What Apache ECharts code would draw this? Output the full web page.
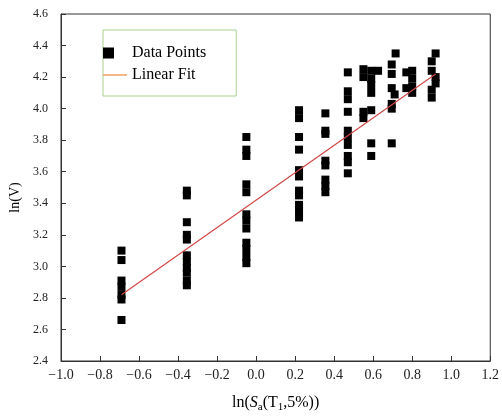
<!DOCTYPE html>
<html>
<head>
<meta charset="utf-8">
<script src="https://cdn.jsdelivr.net/npm/echarts@6/dist/echarts.min.js"></script>
<style>
  html, body { margin: 0; padding: 0; background: #fff; }
  #chart { width: 502px; height: 418px; }
</style>
</head>
<body>
<div id="chart"></div>
<script>
// Observed ln(V) values grouped by their ln(Sa) value
const xValues = [-0.69, -0.355, -0.05, 0.22, 0.355, 0.47, 0.55, 0.59, 0.625, 0.695, 0.71, 0.715, 0.77, 0.80, 0.90, 0.92];
const yGroups = [
  [3.10, 3.04, 2.91, 2.87, 2.82, 2.79, 2.66],
  [3.48, 3.45, 3.28, 3.20, 3.17, 3.07, 3.03, 2.99, 2.96, 2.91, 2.88],
  [3.82, 3.74, 3.70, 3.52, 3.47, 3.33, 3.29, 3.24, 3.15, 3.11, 3.06, 3.02],
  [3.99, 3.94, 3.82, 3.74, 3.61, 3.57, 3.48, 3.45, 3.39, 3.35, 3.31],
  [3.97, 3.86, 3.84, 3.67, 3.64, 3.55, 3.51, 3.47],
  [4.23, 4.11, 4.06, 3.98, 3.86, 3.82, 3.77, 3.70, 3.66, 3.59],
  [4.25, 4.20, 3.98, 3.94],
  [4.24, 4.19, 4.15, 4.10, 3.99, 3.78, 3.70],
  [4.24],
  [4.28, 4.22, 4.13, 4.03, 4.00, 3.78],
  [4.09],
  [4.35],
  [4.23, 4.13],
  [4.24, 4.19, 4.14, 4.10],
  [4.30, 4.24, 4.12, 4.07],
  [4.35, 4.20, 4.16]
];
// Regression line end points
const fitLine = [[-0.69, 2.82], [0.92, 4.22]];

const points = [];
xValues.forEach((x, i) => yGroups[i].forEach(y => points.push([x, y])));

const serif = '"Liberation Serif", "Times New Roman", serif';
const fmt = v => (v < 0 ? '\u2212' : '') + Math.abs(v).toFixed(1);

const chart = echarts.init(document.getElementById('chart'));
chart.setOption({
  animation: false,
  backgroundColor: '#fff',
  grid: { left: 59, right: 8, top: 14, bottom: 55, show: true, borderColor: '#333', borderWidth: 1 },
  legend: {
    orient: 'vertical',
    left: 103, top: 30,
    padding: [15, 30, 13, 0],
    borderColor: '#a9d18e', borderWidth: 1,
    itemWidth: 24, itemHeight: 11, itemGap: 6,
    textStyle: { fontFamily: serif, fontSize: 16, color: '#000', lineHeight: 15 },
    data: [
      { name: 'Data Points', icon: 'path://M0,0h11v11h-11z M23.9,5.4h0.1v0.1h-0.1z', itemStyle: { color: '#000', borderWidth: 0 } },
      { name: 'Linear Fit', icon: 'path://M0,0h24v1.5h-24z', itemStyle: { color: '#f0a060', borderWidth: 0 }, lineStyle: { width: 0 } }
    ]
  },
  xAxis: {
    type: 'value', min: -1.0, max: 1.2, interval: 0.2,
    name: 'ln({i|S}{sub|a}(T{sub|1},5%))',
    nameLocation: 'middle', nameGap: 32,
    nameTextStyle: {
      fontFamily: serif, fontSize: 16, color: '#000', lineHeight: 20,
      rich: {
        i: { fontFamily: serif, fontSize: 16, fontStyle: 'italic', color: '#000', lineHeight: 20 },
        sub: { fontFamily: serif, fontSize: 11, color: '#000', lineHeight: 11, verticalAlign: 'bottom' }
      }
    },
    axisLine: { show: true, onZero: false, lineStyle: { color: '#333', width: 1 } },
    axisTick: { show: true, inside: true, length: 5, lineStyle: { color: '#333' } },
    axisLabel: { fontFamily: serif, fontSize: 14, color: '#222', margin: 7, formatter: fmt },
    splitLine: { show: false }
  },
  yAxis: {
    type: 'value', min: 2.4, max: 4.6, interval: 0.2,
    name: 'ln(V)',
    nameLocation: 'middle', nameGap: 39,
    nameTextStyle: { fontFamily: serif, fontSize: 14, color: '#000', padding: [0, 20, 0, 0] },
    axisLine: { show: true, onZero: false, lineStyle: { color: '#333', width: 1 } },
    axisTick: { show: true, inside: true, length: 5, lineStyle: { color: '#333' } },
    axisLabel: { fontFamily: serif, fontSize: 12, color: '#222', margin: 13, formatter: fmt },
    splitLine: { show: false }
  },
  series: [
    {
      name: 'Data Points', type: 'scatter', symbol: 'rect', symbolSize: 8,
      itemStyle: { color: '#000', opacity: 1 }, data: points, z: 2
    },
    {
      name: 'Linear Fit', type: 'line', data: fitLine, symbol: 'none',
      lineStyle: { color: '#d04848', width: 1.2 }, z: 3
    }
  ]
});
</script>
</body>
</html>
